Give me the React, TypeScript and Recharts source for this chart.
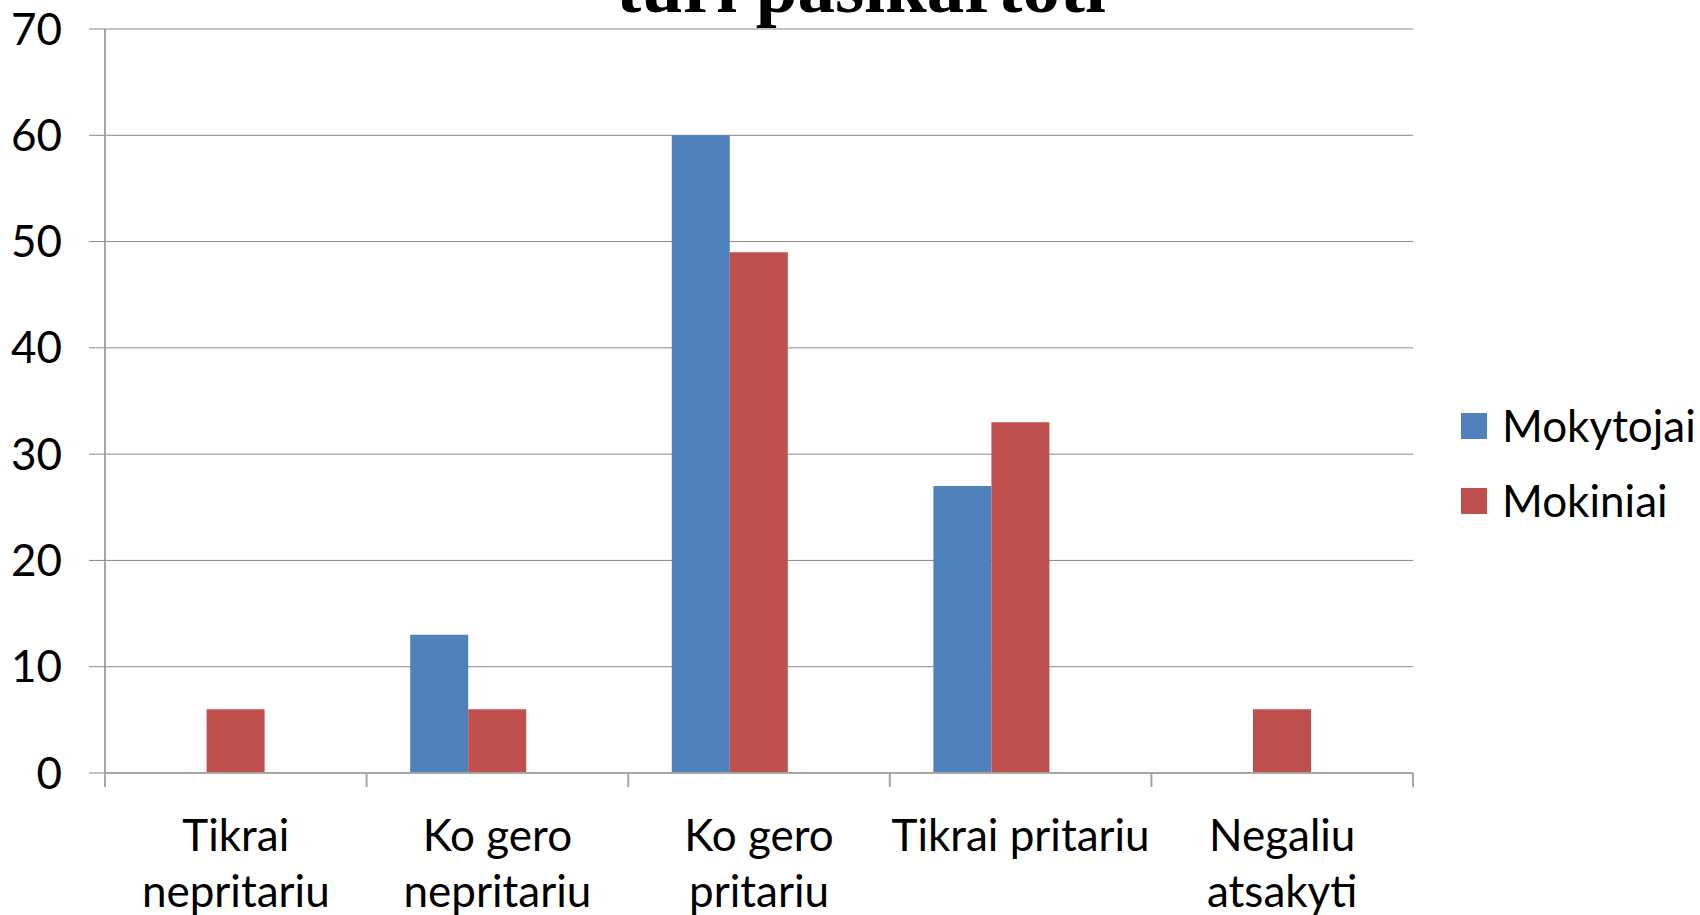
import { BarChart, Bar, XAxis, YAxis, CartesianGrid, Legend } from 'recharts';

const categories = ['Tikrai nepritariu', 'Ko gero nepritariu', 'Ko gero pritariu', 'Tikrai pritariu', 'Negaliu atsakyti'];
// how the category labels wrap under the axis
const tickLines = [
    ['Tikrai', 'nepritariu'],
    ['Ko gero', 'nepritariu'],
    ['Ko gero', 'pritariu'],
    ['Tikrai pritariu'],
    ['Negaliu', 'atsakyti'],
];
const mokytojai = [0, 13, 60, 27, 0];
const mokiniai = [6, 6, 49, 33, 6];
// empty third series that keeps the Excel slot layout
const treciaSerija = [0, 0, 0, 0, 0];
const yTicks = [0, 10, 20, 30, 40, 50, 60, 70];
const seriesOrder = ['Mokytojai', 'Mokiniai'];

const data = categories.map((name, i) => ({
    name,
    Mokytojai: mokytojai[i],
    Mokiniai: mokiniai[i],
    Serija3: treciaSerija[i],
}));

const FONT = 'Lato, "Noto Sans", sans-serif';
const AXIS_GREY = '#a6a6a6';
const GRID_GREY = '#888888';

const CategoryTick = (props: any) => {
    const { x, y, payload, index } = props;
    const half = payload?.offset ?? 130.8;
    const lines = tickLines[index] ?? [payload.value];
    return (
        <g>
            <line x1={x - half} y1={y} x2={x - half} y2={y + 14} stroke={AXIS_GREY} strokeWidth={2} />
            {index === categories.length - 1 && (
                <line x1={x + half} y1={y} x2={x + half} y2={y + 14} stroke={AXIS_GREY} strokeWidth={2} />
            )}
            <text x={x} y={y + 78} textAnchor="middle" fill="#000" fontSize={44} fontFamily={FONT}>
                {lines.map((l, i) => (
                    <tspan key={i} x={x} dy={i === 0 ? 0 : 56}>
                        {l}
                    </tspan>
                ))}
            </text>
        </g>
    );
};

const LegendContent = (props: any) => {
    const items = (props.payload || [])
        .filter((p: any) => p.type !== 'none' && seriesOrder.includes(p.value))
        .sort((a: any, b: any) => seriesOrder.indexOf(a.value) - seriesOrder.indexOf(b.value));
    return (
        <div>
            {items.map((p: any) => (
                <div key={p.value} style={{ display: 'flex', alignItems: 'center', height: 75 }}>
                    <div style={{ width: 26, height: 26, background: p.color, marginRight: 15 }} />
                    <span style={{ fontFamily: FONT, fontSize: 44, lineHeight: '75px', color: '#000' }}>{p.value}</span>
                </div>
            ))}
        </div>
    );
};

const App = () => {
    return (
        <div style={{ position: 'absolute', left: 0, top: 0, width: 1700, height: 915, overflow: 'hidden', background: '#fff' }}>
            <div
                style={{
                    position: 'absolute',
                    left: 861,
                    top: -51,
                    transform: 'translateX(-50%)',
                    whiteSpace: 'nowrap',
                    fontFamily: '"Liberation Serif", "Times New Roman", serif',
                    fontWeight: 'bold',
                    fontSize: 75,
                    lineHeight: '75px',
                    color: '#000',
                }}
            >
                turi pasikartoti
            </div>
            <BarChart
                width={1700}
                height={915}
                data={data}
                margin={{ top: 29, right: 48, bottom: 0, left: 0 }}
                barCategoryGap="16.667%"
                barGap={0}
            >
                <CartesianGrid vertical={false} stroke={GRID_GREY} />
                <XAxis
                    dataKey="name"
                    height={142}
                    tickLine={false}
                    tickSize={0}
                    tickMargin={0}
                    axisLine={{ stroke: AXIS_GREY, strokeWidth: 2 }}
                    tick={<CategoryTick />}
                    interval={0}
                />
                <YAxis
                    width={105}
                    domain={[0, 70]}
                    ticks={yTicks}
                    tickSize={16}
                    tickMargin={27}
                    tickLine={{ stroke: GRID_GREY }}
                    axisLine={{ stroke: AXIS_GREY, strokeWidth: 2 }}
                    tick={{ fill: '#000', fontSize: 44, fontFamily: FONT }}
                />
                <Legend
                    layout="vertical"
                    align="right"
                    verticalAlign="middle"
                    content={<LegendContent />}
                    wrapperStyle={{ left: 1461, top: 388, right: 'auto', bottom: 'auto', width: 239 }}
                />
                <Bar dataKey="Mokytojai" fill="#4f81bd" isAnimationActive={false} />
                <Bar dataKey="Mokiniai" fill="#c0504d" isAnimationActive={false} />
                <Bar dataKey="Serija3" fill="#9bbb59" legendType="none" isAnimationActive={false} />
            </BarChart>
        </div>
    );
};

export default App;
